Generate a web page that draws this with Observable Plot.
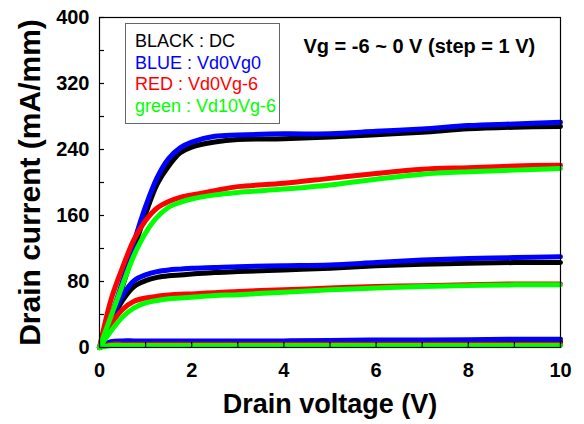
<!DOCTYPE html>
<html><head><meta charset="utf-8">
<script src="https://cdn.jsdelivr.net/npm/d3@7"></script>
<script src="https://cdn.jsdelivr.net/npm/@observablehq/plot@0.6"></script>
<style>
body{margin:0;background:#fff;}
#wrap{position:relative;width:584px;height:424px;}
#legend{position:absolute;left:125px;top:23px;width:155px;height:101px;border:1px solid #666;background:#fff;
 font-family:Arial,"Liberation Sans",sans-serif;font-size:18px;line-height:21.7px;padding:7px 0 0 9px;box-sizing:border-box;white-space:nowrap;}
</style></head><body><div id="wrap"></div>
<script>
// Drain voltage sample points (V)
const voltage = [0,0.25,0.5,0.75,1,1.25,1.5,1.75,2,2.5,3,4,5,6,7,8,9,10];

// Drain current (mA/mm), three visible gate levels per condition
const dcUpper    = [0,35,74,120,162,198,220,236,243,249,252,253,255,258,261,265,267,268];
const dcMiddle   = [0,30,57,74,81,85,87,88,89,91,92,94,96,99,101,102,103,103];
const dcLower    = [0,5,6,6,6,6,6,6,6,6,6,6,6,6,7,7,7,7];

const blueUpper  = [0,38,80,128,171,206,229,242,249,256,257.5,259,259,262,265,269,271,273];
const blueMiddle = [0,33,63,81,88,92,94,95,96,97,98,99,100,103,106,108,109,110];
const blueLower  = [0,7,8,8,8,8,8,8,8,8,8,8,8.5,9,9,9.5,10,10];

const redUpper   = [0,58,97,131,154,169,177,182,185,190,195,199,205,211,216,218,220,221];
const redMiddle  = [0,28,46,56,60,62,63.5,64.5,65,66.5,68,70,72,74,75,76,77,77];
const redLower   = [0,4,4,4,4,4,4,4,4,4,4,4,4,4,4,4,4,4];

const greenUpper = [0,38,76,112,139,158,170,176,180,185,188,192,197,204,210,213,215,217];
const greenMiddle= [0,20,37,48,54,57,59,60,61,63,64,67,70,72,74,75,76,76];
const greenLower = [0,2.5,2.5,2.5,2.5,2.5,2.5,2.5,2.5,2.5,2.5,2.5,2.5,2.5,2.5,2.5,2.5,2.5];

const conditions = ["DC","Vd0Vg0","Vd0Vg-6","Vd10Vg-6"];
const legendLabels = ["BLACK : DC","BLUE : Vd0Vg0","RED : Vd0Vg-6","green : Vd10Vg-6"];
const colors = ["#000000","#0000ff","#ff0000","#00ff00"];
const seriesByCondition = {
  "DC": [dcUpper, dcMiddle, dcLower],
  "Vd0Vg0": [blueUpper, blueMiddle, blueLower],
  "Vd0Vg-6": [redUpper, redMiddle, redLower],
  "Vd10Vg-6": [greenUpper, greenMiddle, greenLower]
};
const xTicks = [0,2,4,6,8,10];
const xMinor = [0,1,2,3,4,5,6,7,8,9,10];
const yTicks = [0,80,160,240,320,400];
const yMinor = [0,40,80,120,160,200,240,280,320,360,400];
const annotation = "Vg = -6 ~ 0 V (step = 1 V)";

const rows = [];
for (const c of conditions) {
  seriesByCondition[c].forEach((vals, k) => {
    vals.forEach((v, i) => rows.push({cond: c, level: k, v: voltage[i], i: v}));
  });
}

const font = "Arial, 'Liberation Sans', sans-serif";
const plot = Plot.plot({
  width: 584, height: 424,
  marginLeft: 99, marginRight: 24, marginTop: 17, marginBottom: 77,
  style: {fontFamily: font, color: "#000", background: "#fff", overflow: "visible"},
  x: {domain: [0, 10]},
  y: {domain: [0, 400]},
  color: {domain: conditions, range: colors},
  marks: [
    Plot.line(rows, {x: "v", y: "i", z: d => d.cond + d.level, stroke: "cond", strokeWidth: 5, curve: "catmull-rom"}),
    Plot.frame({stroke: "#000", strokeWidth: 1.2}),
    Plot.axisY(yMinor, {tickSize: -5, tickFormat: () => "", label: null, strokeWidth: 1.2}),
    Plot.axisX(xMinor, {tickSize: -5, tickFormat: () => "", label: null, strokeWidth: 1.2}),
    Plot.axisY(yTicks, {tickSize: 0, tickPadding: 10, fontSize: 20, fontWeight: "bold",
      label: "Drain current (mA/mm)", labelAnchor: "center", labelOffset: 81, labelArrow: "none"}),
    Plot.axisX(xTicks, {tickSize: 0, tickPadding: 15, fontSize: 20, fontWeight: "bold",
      label: "Drain voltage (V)", labelAnchor: "center", labelOffset: 65, labelArrow: "none"}),
    Plot.text([annotation], {text: d => d, frameAnchor: "top-left", dx: 204, dy: 21,
      textAnchor: "start", lineAnchor: "top", fontSize: 20, fontWeight: "bold"})
  ]
});
const wrap = document.getElementById("wrap");
wrap.appendChild(plot);
d3.select(plot).select('[aria-label="y-axis label"]').attr("font-size", 30);
d3.select(plot).select('[aria-label="x-axis label"]').attr("font-size", 27);

const legend = document.createElement("div");
legend.id = "legend";
legendLabels.forEach((t, k) => {
  const d = document.createElement("div");
  d.textContent = t;
  d.style.color = colors[k];
  legend.appendChild(d);
});
wrap.appendChild(legend);
</script>
</body></html>
